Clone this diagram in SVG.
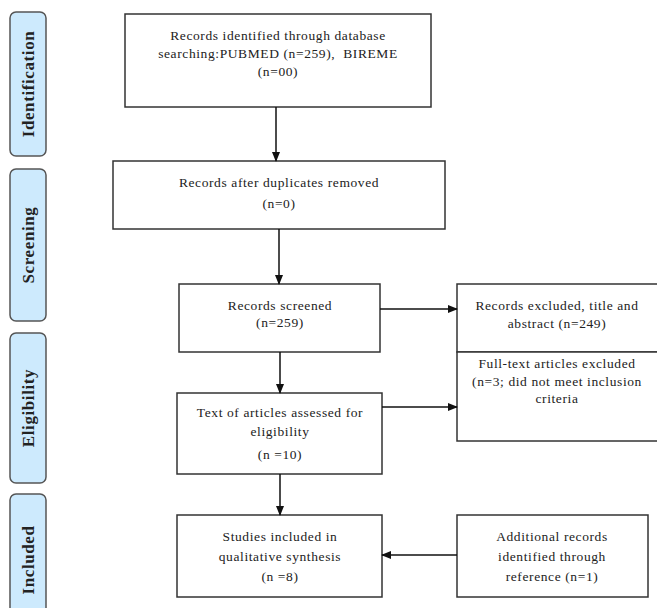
<svg xmlns="http://www.w3.org/2000/svg" width="657" height="608" viewBox="0 0 657 608">
<defs>
<marker id="ah" markerWidth="10" markerHeight="8" refX="9" refY="4" orient="auto" markerUnits="userSpaceOnUse">
<path d="M0,0 L10,4 L0,8 Z" fill="#111"/>
</marker>
<style>
.box{fill:#fff;stroke:#333;stroke-width:1.5}
.side{fill:#cdeafd;stroke:#555;stroke-width:1.5}
.t{font-family:'Liberation Serif','DejaVu Serif',serif;font-size:13.5px;letter-spacing:0.6px;fill:#222;text-anchor:middle}
.s{font-family:'Liberation Serif','DejaVu Serif',serif;font-size:17px;font-weight:bold;letter-spacing:0.6px;fill:#222;text-anchor:middle}
.c{stroke:#111;stroke-width:1.5;fill:none;marker-end:url(#ah)}
</style>
</defs>
<rect width="657" height="608" fill="#fff"/>
<g id="side-identification"><rect class="side" x="10" y="12" width="36" height="144" rx="6"/><text class="s" font-family="Liberation Serif" transform="translate(34,84) rotate(-90)">Identification</text></g>
<g id="side-screening"><rect class="side" x="10" y="169" width="36" height="152" rx="6"/><text class="s" font-family="Liberation Serif" transform="translate(34,245) rotate(-90)">Screening</text></g>
<g id="side-eligibility"><rect class="side" x="10" y="333" width="36" height="150" rx="6"/><text class="s" font-family="Liberation Serif" transform="translate(34,408) rotate(-90)">Eligibility</text></g>
<g id="side-included"><rect class="side" x="10" y="494" width="36" height="130" rx="6"/><text class="s" font-family="Liberation Serif" transform="translate(34,560) rotate(-90)">Included</text></g>

<g id="n-identified"><rect class="box" x="125" y="14" width="306" height="93"/>
<text class="t" x="278" y="40">Records identified through database</text>
<text class="t" x="278" y="58" xml:space="preserve">searching:PUBMED (n=259),  BIREME</text>
<text class="t" x="278" y="76">(n=00)</text></g>

<g id="n-duplicates"><rect class="box" x="113" y="161" width="332" height="68"/>
<text class="t" x="279" y="187">Records after duplicates removed</text>
<text class="t" x="279" y="208">(n=0)</text></g>

<g id="n-screened"><rect class="box" x="179" y="284" width="201" height="68"/>
<text class="t" x="280" y="310">Records screened</text>
<text class="t" x="280" y="327">(n=259)</text></g>

<g id="n-excluded"><rect class="box" x="457" y="284" width="205" height="68"/>
<text class="t" x="557" y="310">Records excluded, title and</text>
<text class="t" x="557" y="328">abstract (n=249)</text></g>

<g id="n-fulltext-excluded"><rect class="box" x="457" y="352" width="205" height="89"/>
<text class="t" x="557" y="368">Full-text articles excluded</text>
<text class="t" x="557" y="386">(n=3; did not meet inclusion</text>
<text class="t" x="557" y="403">criteria</text></g>

<g id="n-eligibility"><rect class="box" x="177" y="393" width="205" height="81"/>
<text class="t" x="280" y="417">Text of articles assessed for</text>
<text class="t" x="280" y="436">eligibility</text>
<text class="t" x="280" y="459">(n =10)</text></g>

<g id="n-included"><rect class="box" x="177" y="515" width="205" height="82"/>
<text class="t" x="280" y="541">Studies included in</text>
<text class="t" x="280" y="561">qualitative synthesis</text>
<text class="t" x="280" y="581">(n =8)</text></g>

<g id="n-additional"><rect class="box" x="457" y="515" width="191" height="82"/>
<text class="t" x="552" y="541">Additional records</text>
<text class="t" x="552" y="561">identified through</text>
<text class="t" x="552" y="581">reference (n=1)</text></g>

<g id="connectors">
<line class="c" x1="276" y1="107" x2="276" y2="161"/>
<line class="c" x1="279" y1="229" x2="279" y2="284"/>
<line class="c" x1="280" y1="352" x2="280" y2="393"/>
<line class="c" x1="380" y1="309" x2="457" y2="309"/>
<line class="c" x1="382" y1="407" x2="457" y2="407"/>
<line class="c" x1="280" y1="474" x2="280" y2="515"/>
<line class="c" x1="457" y1="555" x2="382" y2="555"/>
</g>
</svg>
